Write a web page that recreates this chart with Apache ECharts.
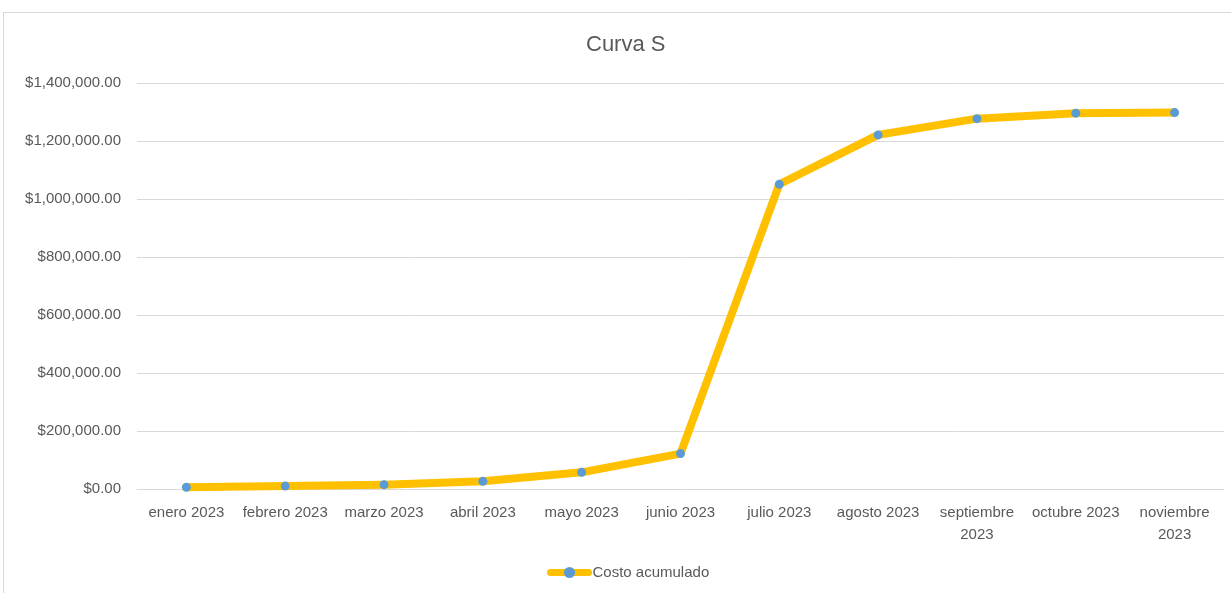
<!DOCTYPE html>
<html>
<head>
<meta charset="utf-8">
<script src="https://cdn.jsdelivr.net/npm/echarts@6/dist/echarts.min.js"></script>
<style>
  html, body { margin: 0; padding: 0; background: #fff; }
  #frame {
    position: absolute; left: 3px; top: 12px;
    width: 1300px; height: 700px;
    border: 1px solid #d9d9d9;
  }
  #main { position: absolute; left: 0; top: 0; width: 1231px; height: 593px; }
</style>
</head>
<body>
<div id="frame"></div>
<div id="main"></div>
<script>
// datos de la curva S
var meses = ["enero 2023", "febrero 2023", "marzo 2023", "abril 2023", "mayo 2023", "junio 2023",
  "julio 2023", "agosto 2023", "septiembre 2023", "octubre 2023", "noviembre 2023"];
var costoAcumulado = [6000, 10000, 15000, 26500, 57500, 122000,
  1051000, 1221000, 1277000, 1296000, 1298000];
var ejeMin = 0;
var ejeMax = 1400000;
var ejePaso = 200000;

var fuente = "'Liberation Sans', 'Noto Sans', sans-serif";

function moneda(v) {
  return "$" + v.toLocaleString("en-US", { minimumFractionDigits: 2, maximumFractionDigits: 2 });
}

var myChart = echarts.init(document.getElementById("main"));
myChart.setOption({
  animation: false,
  title: {
    text: "Curva S",
    left: 581,
    top: 29,
    textStyle: { color: "#595959", fontSize: 22, fontWeight: "normal", fontFamily: fuente }
  },
  grid: { left: 137, right: 7, top: 83, bottom: 104 },
  legend: {
    top: 560,
    left: 542,
    itemWidth: 38,
    itemHeight: 14,
    itemGap: 4,
    lineStyle: { width: 7 },
    textStyle: { color: "#595959", fontSize: 15, fontFamily: fuente, padding: [0, 0, 0, -1] },
    data: ["Costo acumulado"]
  },
  xAxis: {
    type: "category",
    data: meses,
    boundaryGap: true,
    axisLine: { lineStyle: { color: "#d9d9d9" } },
    axisTick: { show: false },
    axisLabel: {
      color: "#595959",
      fontSize: 15,
      fontFamily: fuente,
      margin: 13,
      lineHeight: 22,
      interval: 0,
      formatter: function (v) { return v.length > 12 ? v.replace(" ", "\n") : v; }
    }
  },
  yAxis: {
    type: "value",
    min: ejeMin,
    max: ejeMax,
    interval: ejePaso,
    axisLine: { show: false },
    axisTick: { show: false },
    splitLine: { lineStyle: { color: "#d9d9d9", width: 1 } },
    axisLabel: {
      color: "#595959",
      fontSize: 15,
      fontFamily: fuente,
      margin: 16,
      formatter: moneda
    }
  },
  series: [
    {
      name: "Costo acumulado",
      type: "line",
      data: costoAcumulado,
      symbol: "circle",
      symbolSize: 9,
      lineStyle: { color: "#FFC000", width: 8, cap: "round", join: "round" },
      itemStyle: { color: "#5B9BD5", borderWidth: 0 }
    }
  ]
});
</script>
</body>
</html>
